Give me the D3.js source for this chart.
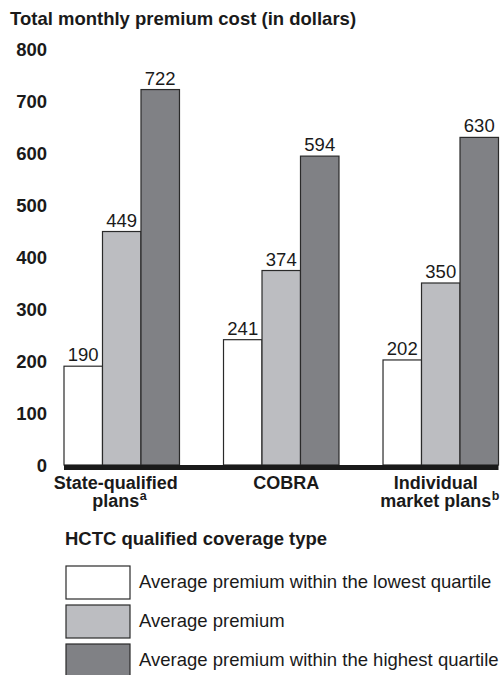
<!DOCTYPE html>
<html>
<head>
<meta charset="utf-8">
<script src="https://cdn.jsdelivr.net/npm/d3@7"></script>
<style>
  html, body { margin: 0; padding: 0; background: #fff; }
  svg { display: block; font-family: "Liberation Sans", Arial, Helvetica, sans-serif; }
</style>
</head>
<body>
<svg id="chart" width="502" height="675"></svg>
<script>
// Coverage types (x categories) and their two-line labels with footnote marks
const categories = ["State-qualified plans", "COBRA", "Individual market plans"];
const categoryLines = [
  [{ text: "State-qualified" }, { text: "plans", sup: "a" }],
  [{ text: "COBRA" }],
  [{ text: "Individual" }, { text: "market plans", sup: "b" }]
];

// Series: lowest quartile, overall average, highest quartile
const seriesNames = [
  "Average premium within the lowest quartile",
  "Average premium",
  "Average premium within the highest quartile"
];
const lowestQuartile = [190, 241, 202];
const averagePremium = [449, 374, 350];
const highestQuartile = [722, 594, 630];
const seriesValues = [lowestQuartile, averagePremium, highestQuartile];
const seriesColors = ["#ffffff", "#bcbdc1", "#808185"];

const yTicks = [0, 100, 200, 300, 400, 500, 600, 700, 800];

// Layout
const FS = 18.5;                       // base font size
const labelShift = [-6, 5, -5];        // horizontal nudge of each category label

const svg = d3.select("#chart");

// Scales
const y = d3.scaleLinear().domain([0, 800]).range([465, 49]);
const x0 = d3.scaleBand().domain(categories).range([64, 498.5]).paddingInner(0.276).paddingOuter(0);
const x1 = d3.scaleBand().domain(d3.range(seriesNames.length)).range([0, x0.bandwidth()]).padding(0);

// Title
svg.append("text")
  .attr("x", 10).attr("y", 25)
  .attr("font-size", FS).attr("font-weight", "bold").attr("fill", "#1a1a1a")
  .text("Total monthly premium cost (in dollars)");

// Y axis (labels only)
const yAxis = d3.axisLeft(y).tickValues(yTicks).tickSize(0).tickPadding(0).tickFormat(d3.format("d"));
const yg = svg.append("g").attr("transform", "translate(47,0)").call(yAxis);
yg.select(".domain").remove();
yg.selectAll("text")
  .attr("font-size", FS).attr("font-weight", "bold").attr("fill", "#1a1a1a")
  .attr("font-family", "Liberation Sans, Arial, sans-serif")
  .attr("dy", "0.36em");

// Bars
const groups = svg.append("g").selectAll("g")
  .data(categories)
  .join("g")
  .attr("transform", d => `translate(${x0(d)},0)`);

groups.selectAll("rect")
  .data((d, ci) => seriesValues.map((vals, si) => ({ si, v: vals[ci] })))
  .join("rect")
  .attr("x", d => x1(d.si))
  .attr("y", d => y(d.v))
  .attr("width", x1.bandwidth())
  .attr("height", d => y(0) - y(d.v))
  .attr("fill", d => seriesColors[d.si])
  .attr("stroke", "#2a2a2a")
  .attr("stroke-width", 1.2);

// Value labels
groups.selectAll("text.val")
  .data((d, ci) => seriesValues.map((vals, si) => ({ si, v: vals[ci] })))
  .join("text")
  .attr("class", "val")
  .attr("x", d => x1(d.si) + x1.bandwidth() / 2)
  .attr("y", d => y(d.v) - 5)
  .attr("text-anchor", "middle")
  .attr("font-size", FS).attr("fill", "#1a1a1a")
  .text(d => d.v);

// Baseline bar
svg.append("rect")
  .attr("x", x0.range()[0]).attr("y", y(0))
  .attr("width", x0.range()[1] - x0.range()[0]).attr("height", 5)
  .attr("fill", "#1a1a1a");

// Category labels
const xAxis = svg.append("g");
categories.forEach((c, ci) => {
  const cx = x0(c) + x0.bandwidth() / 2 + labelShift[ci];
  categoryLines[ci].forEach((line, li) => {
    const t = xAxis.append("text")
      .attr("x", cx).attr("y", 489 + li * 18)
      .attr("text-anchor", "middle")
      .attr("font-size", 18).attr("font-weight", "bold").attr("fill", "#1a1a1a");
    t.append("tspan").text(line.text);
    if (line.sup) {
      // superscript placed after the centred word so the word itself stays centred
      const w = t.node().getComputedTextLength();
      xAxis.append("text")
        .attr("x", cx + w / 2 + 0.5).attr("y", 489 + li * 18 - 7)
        .attr("font-size", 12.5).attr("font-weight", "bold").attr("fill", "#1a1a1a")
        .text(line.sup);
    }
  });
});

// Legend
svg.append("text")
  .attr("x", 65).attr("y", 545)
  .attr("font-size", FS).attr("font-weight", "bold").attr("fill", "#1a1a1a")
  .text("HCTC qualified coverage type");

const legend = svg.append("g").selectAll("g")
  .data(seriesNames)
  .join("g")
  .attr("transform", (d, i) => `translate(66,${566 + i * 39})`);

legend.append("rect")
  .attr("width", 64).attr("height", 33)
  .attr("fill", (d, i) => seriesColors[i])
  .attr("stroke", "#2a2a2a").attr("stroke-width", 1.2);

legend.append("text")
  .attr("x", 73).attr("y", 22)
  .attr("font-size", FS).attr("fill", "#1a1a1a")
  .text(d => d);
</script>
</body>
</html>
